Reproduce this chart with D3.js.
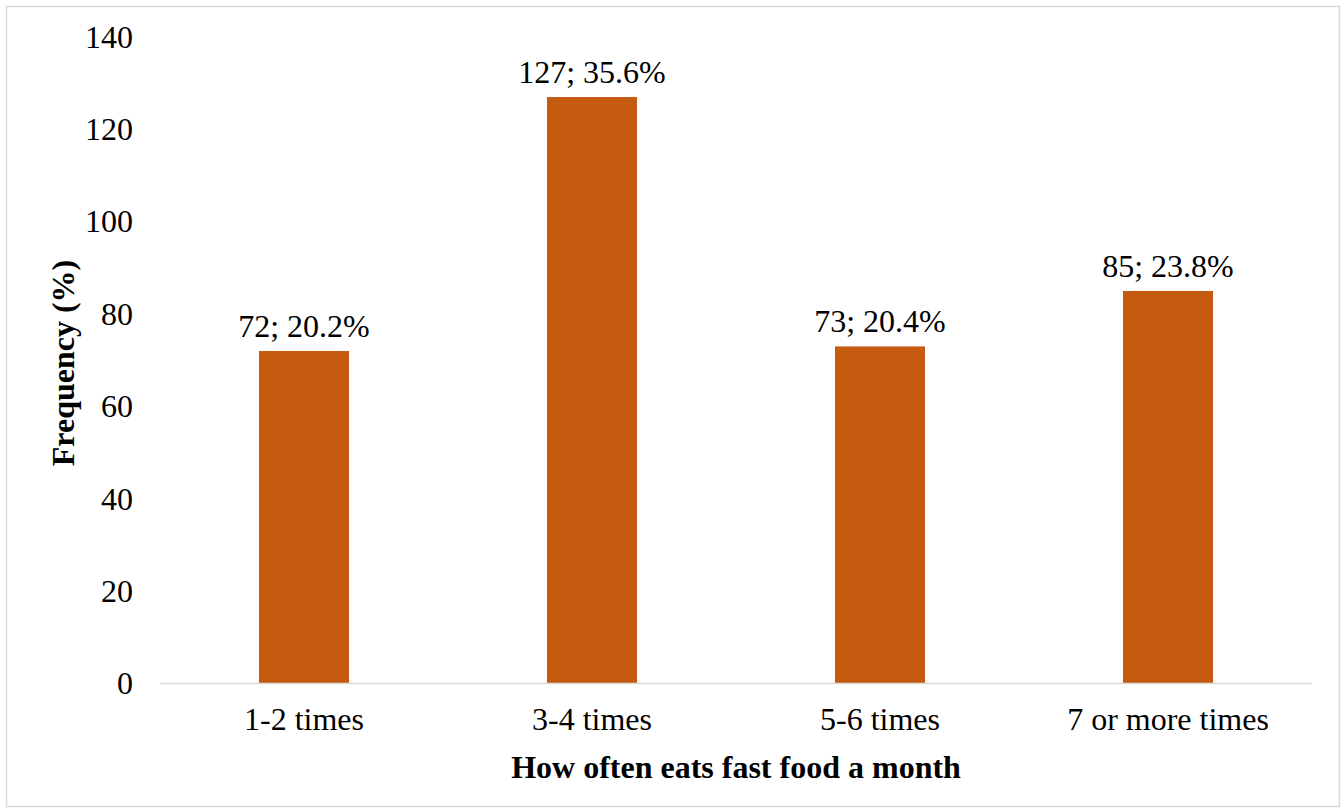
<!DOCTYPE html>
<html>
<head>
<meta charset="utf-8">
<script src="https://cdn.jsdelivr.net/npm/d3@7"></script>
<style>
  html, body { margin: 0; padding: 0; background: #fff; }
</style>
</head>
<body>
<div id="chart"></div>
<script>
const categories = ["1-2 times", "3-4 times", "5-6 times", "7 or more times"];
const counts = [72, 127, 73, 85];
const percents = ["20.2%", "35.6%", "20.4%", "23.8%"];
const yTicks = [0, 20, 40, 60, 80, 100, 120, 140];

const fontFamily = "'Liberation Serif', 'Times New Roman', serif";
const fontSize = 32;

const width = 1344, height = 812;
const margin = { top: 37, right: 32, bottom: 128.5, left: 160 };
const innerW = width - margin.left - margin.right;
const innerH = height - margin.top - margin.bottom;

const svg = d3.select("#chart")
    .append("svg")
    .attr("width", width)
    .attr("height", height)
    .attr("font-family", fontFamily);

// chart border
svg.append("rect")
    .attr("x", 6.5).attr("y", 6.5)
    .attr("width", 1333).attr("height", 800)
    .attr("fill", "#fff")
    .attr("stroke", "#d9d9d9")
    .attr("stroke-width", 1.5);

const g = svg.append("g")
    .attr("transform", "translate(" + margin.left + "," + margin.top + ")");

const xScale = d3.scaleBand()
    .domain(categories)
    .range([0, innerW])
    .paddingInner(0.6875)
    .paddingOuter(0.34375);

const yScale = d3.scaleLinear()
    .domain([0, 140])
    .range([innerH, 0]);

// y tick labels
const yAxis = d3.axisLeft(yScale)
    .tickValues(yTicks)
    .tickSize(0)
    .tickPadding(27);

g.append("g")
    .attr("class", "y-axis")
    .call(yAxis)
    .attr("font-family", fontFamily)
    .attr("font-size", fontSize)
    .call(s => s.select(".domain").remove())
    .selectAll("text")
    .attr("fill", "#000");

// bars
g.selectAll(".bar")
    .data(counts)
    .enter().append("rect")
    .attr("class", "bar")
    .attr("x", (d, i) => xScale(categories[i]))
    .attr("y", d => yScale(d))
    .attr("width", xScale.bandwidth())
    .attr("height", d => innerH - yScale(d))
    .attr("fill", "#c55a11");

// data labels
g.selectAll(".label")
    .data(counts)
    .enter().append("text")
    .attr("class", "label")
    .attr("x", (d, i) => xScale(categories[i]) + xScale.bandwidth() / 2)
    .attr("y", d => yScale(d) - 14)
    .attr("text-anchor", "middle")
    .attr("font-size", fontSize)
    .attr("fill", "#000")
    .text((d, i) => d + "; " + percents[i]);

// baseline
g.append("line")
    .attr("x1", 0).attr("x2", innerW)
    .attr("y1", innerH).attr("y2", innerH)
    .attr("stroke", "#d9d9d9")
    .attr("stroke-width", 1.5);

// x tick labels
const xAxis = d3.axisBottom(xScale)
    .tickSize(0)
    .tickPadding(24);

g.append("g")
    .attr("class", "x-axis")
    .attr("transform", "translate(0," + innerH + ")")
    .call(xAxis)
    .attr("font-family", fontFamily)
    .attr("font-size", fontSize)
    .call(s => s.select(".domain").remove())
    .selectAll("text")
    .attr("fill", "#000");

// axis titles
svg.append("text")
    .attr("x", margin.left + innerW / 2)
    .attr("y", 778)
    .attr("text-anchor", "middle")
    .attr("font-size", fontSize)
    .attr("font-weight", "bold")
    .attr("fill", "#000")
    .text("How often eats fast food a month");

svg.append("text")
    .attr("transform", "translate(74,363) rotate(-90)")
    .attr("text-anchor", "middle")
    .attr("font-size", fontSize)
    .attr("font-weight", "bold")
    .attr("fill", "#000")
    .text("Frequency (%)");
</script>
</body>
</html>
